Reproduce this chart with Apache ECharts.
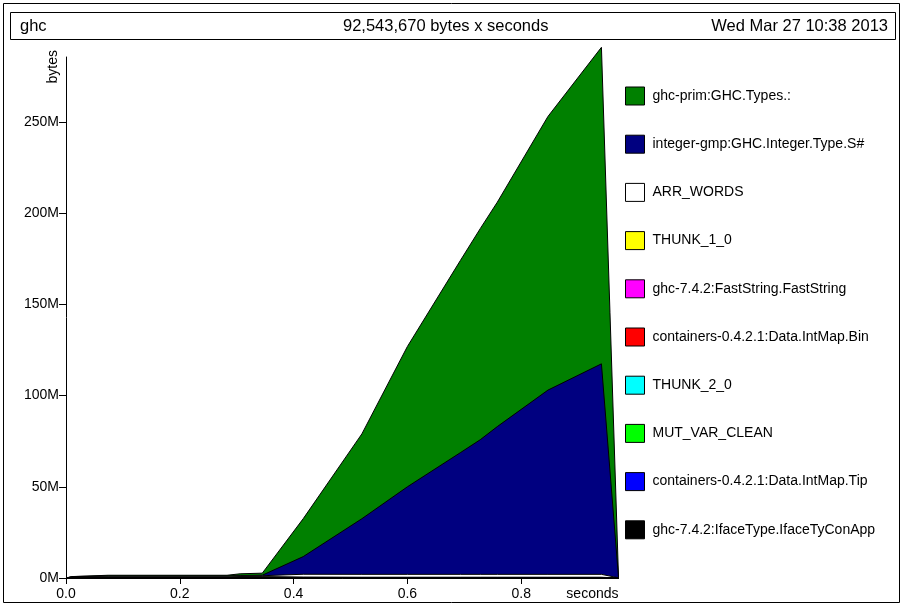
<!DOCTYPE html>
<html>
<head>
<meta charset="utf-8">
<script src="https://cdn.jsdelivr.net/npm/echarts@6/dist/echarts.min.js"></script>
<style>
html,body{margin:0;padding:0;background:#fff;}
#chart{width:904px;height:606px;}
</style>
</head>
<body>
<div id="chart"></div>
<script>
// sample times (seconds)
var times = [0, 0.012, 0.074, 0.283, 0.306, 0.345, 0.417, 0.520, 0.600, 0.693, 0.728, 0.758, 0.847, 0.941, 0.971];
// values in millions of bytes, one array per band
var ghcPrim       = [0, 0, 0.5, 0.5, 1.0, 1.1, 20.8, 46.5, 76.9, 105.3, 115.7, 123.0, 150.0, 173.5, 0.3];
var integerGmp    = [0, 0, 0, 0, 0, 0.3, 9.7, 30.5, 48.0, 66.7, 73.8, 81.0, 101.0, 115.4, 0.1];
var arrWords      = [0, 0.3, 0.5, 0.5, 0.6, 0.6, 1.6, 1.6, 1.6, 1.6, 1.6, 1.6, 1.6, 1.6, 0.1];
var thunk10       = [0, 0.05, 0.1, 0.1, 0.1, 0.1, 0.1, 0.1, 0.1, 0.1, 0.1, 0.1, 0.1, 0.1, 0];
var fastString    = [0, 0.05, 0.1, 0.1, 0.1, 0.1, 0.05, 0.05, 0.05, 0.05, 0.05, 0.05, 0.05, 0.05, 0];
var intMapBin     = [0, 0, 0, 0, 0.1, 0.1, 0.05, 0.05, 0.05, 0.05, 0.05, 0.05, 0.05, 0.05, 0];
var thunk20       = [0, 0.05, 0.05, 0.05, 0.1, 0.05, 0.05, 0.05, 0.05, 0.05, 0.05, 0.05, 0.05, 0.05, 0];
var mutVarClean   = [0, 0.05, 0.05, 0.05, 0.05, 0.05, 0.05, 0.05, 0.05, 0.05, 0.05, 0.05, 0.05, 0.05, 0];
var intMapTip     = [0, 0, 0, 0, 0.05, 0.05, 0.05, 0.05, 0.05, 0.05, 0.05, 0.05, 0.05, 0.05, 0];
var ifaceTyConApp = [0, 0.3, 0.2, 0.2, 0.2, 0.2, 0.1, 0.05, 0.05, 0.05, 0.05, 0.05, 0.05, 0.05, 0];

// bands from bottom to top
var bandNames = [
  'ghc-7.4.2:IfaceType.IfaceTyConApp',
  'containers-0.4.2.1:Data.IntMap.Tip',
  'MUT_VAR_CLEAN',
  'THUNK_2_0',
  'containers-0.4.2.1:Data.IntMap.Bin',
  'ghc-7.4.2:FastString.FastString',
  'THUNK_1_0',
  'ARR_WORDS',
  'integer-gmp:GHC.Integer.Type.S#',
  'ghc-prim:GHC.Types.:'
];
var bandValues = [ifaceTyConApp, intMapTip, mutVarClean, thunk20, intMapBin, fastString, thunk10, arrWords, integerGmp, ghcPrim];
var bandColors = ['#000000', '#0000ff', '#00ff00', '#00ffff', '#ff0000', '#ff00ff', '#ffff00', '#ffffff', '#000080', '#008000'];

var yTicks = [0, 50, 100, 150, 200, 250];
var xTicks = [0, 0.2, 0.4, 0.6, 0.8];

var FONT = 'Liberation Sans, Arial, Helvetica, sans-serif';

// cumulative (stacked) totals: band i is drawn from 0 up to the sum of bands 0..i,
// upper bands drawn first so each lower band paints over them
var running = times.map(function () { return 0; });
var series = bandNames.map(function (name, i) {
  running = running.map(function (s, k) { return s + bandValues[i][k]; });
  var cum = running.slice();
  return {
    name: name,
    type: 'line',
    clip: false,
    showSymbol: false,
    symbol: 'none',
    z: 20 - i,
    itemStyle: { color: bandColors[i] },
    lineStyle: { color: '#000', width: 1 },
    areaStyle: { color: bandColors[i], opacity: 1, origin: 'start' },
    emphasis: { disabled: true },
    data: times.map(function (t, k) { return [t, cum[k]]; })
  };
});

var chart = echarts.init(document.getElementById('chart'), null, { renderer: 'canvas' });
chart.setOption({
  animation: false,
  backgroundColor: '#fff',
  textStyle: { fontFamily: FONT, color: '#000' },
  title: [
    { text: 'ghc', left: 20, top: 18, padding: 0, textStyle: { fontSize: 16.5, fontWeight: 'normal', fontFamily: FONT, color: '#000' } },
    { text: '92,543,670 bytes x seconds', left: 343, top: 18, padding: 0, textStyle: { fontSize: 16.5, fontWeight: 'normal', fontFamily: FONT, color: '#000' } },
    { text: 'Wed Mar 27 10:38 2013', right: 16, top: 18, padding: 0, textStyle: { fontSize: 16.5, fontWeight: 'normal', fontFamily: FONT, color: '#000' } }
  ],
  graphic: [
    { type: 'rect', shape: { x: 3.5, y: 3.5, width: 896, height: 599 }, style: { fill: 'none', stroke: '#000', lineWidth: 1 }, silent: true },
    { type: 'rect', shape: { x: 10.5, y: 12.5, width: 885, height: 27 }, style: { fill: 'none', stroke: '#000', lineWidth: 1 }, silent: true }
  ],
  legend: {
    orient: 'vertical',
    left: 625,
    top: 86.5,
    padding: 0,
    itemWidth: 19,
    itemHeight: 18,
    itemGap: 29.2,
    icon: 'rect',
    selectedMode: false,
    data: bandNames.slice().reverse(),
    itemStyle: { borderColor: '#000', borderWidth: 1 },
    textStyle: { fontSize: 14, fontFamily: FONT, color: '#000', padding: [0, 0, 0, 3] }
  },
  grid: { left: 66, right: 285.5, top: 57, bottom: 28, containLabel: false },
  xAxis: {
    type: 'value',
    min: 0,
    max: 0.971,
    interval: 0.2,
    name: 'seconds',
    nameLocation: 'end',
    nameGap: 0,
    nameTextStyle: { fontSize: 14, fontFamily: FONT, color: '#000', align: 'right', verticalAlign: 'top', padding: [9, 0, 0, 0] },
    axisLine: { show: true, lineStyle: { color: '#000', width: 1 } },
    axisTick: { show: true, length: 6, lineStyle: { color: '#000' }, customValues: xTicks },
    axisLabel: { show: true, margin: 9, fontSize: 14, fontFamily: FONT, color: '#000', customValues: xTicks, formatter: function (v) { return v.toFixed(1); } },
    splitLine: { show: false }
  },
  yAxis: {
    type: 'value',
    min: 0,
    max: 285.6,
    interval: 50,
    name: 'bytes',
    nameLocation: 'end',
    nameRotate: 90,
    nameGap: 7,
    nameTextStyle: { fontSize: 14, fontFamily: FONT, color: '#000', align: 'right', verticalAlign: 'bottom', lineHeight: 25 },
    axisLine: { show: true, lineStyle: { color: '#000', width: 1 } },
    axisTick: { show: true, length: 7, lineStyle: { color: '#000' }, customValues: yTicks },
    axisLabel: { show: true, margin: 7, fontSize: 14, fontFamily: FONT, color: '#000', verticalAlign: 'middle', padding: [0, 0, 8, 0], customValues: yTicks, formatter: function (v) { return Math.round(v) + 'M'; } },
    splitLine: { show: false }
  },
  series: series
});
</script>
</body>
</html>
